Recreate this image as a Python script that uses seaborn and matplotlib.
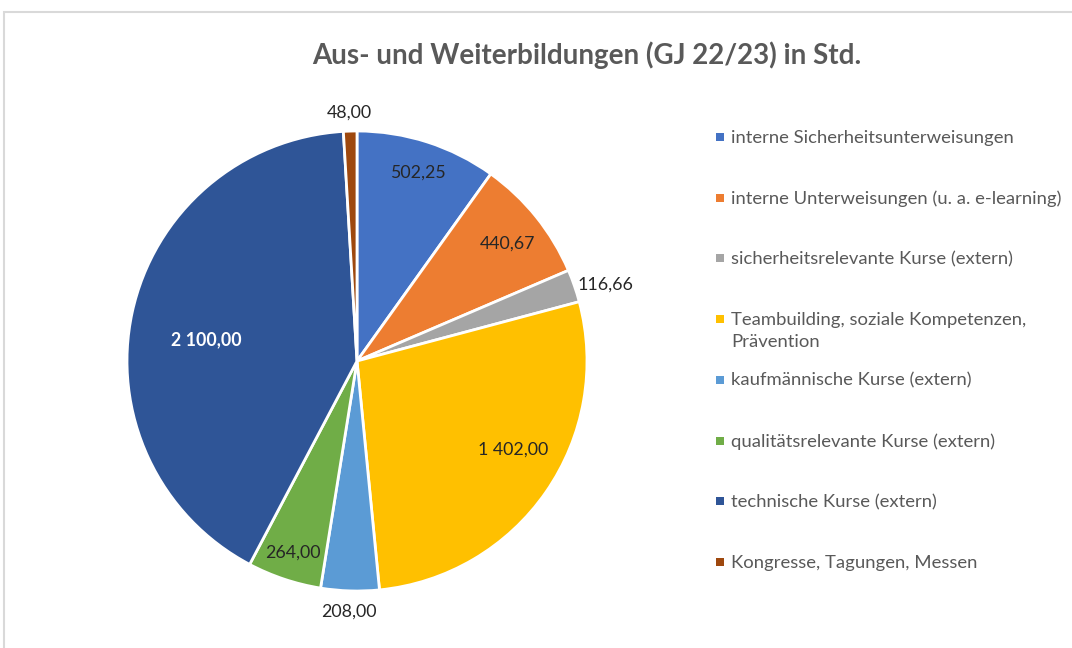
import matplotlib
matplotlib.use("Agg")
import numpy as np
import matplotlib.pyplot as plt
import seaborn as sns
from matplotlib.patches import Rectangle

# Data (hours per category, fiscal year 22/23)
categories = [
    "interne Sicherheitsunterweisungen",
    "interne Unterweisungen (u. a. e-learning)",
    "sicherheitsrelevante Kurse (extern)",
    "Teambuilding, soziale Kompetenzen,\nPrävention",
    "kaufmännische Kurse (extern)",
    "qualitätsrelevante Kurse (extern)",
    "technische Kurse (extern)",
    "Kongresse, Tagungen, Messen",
]
hours = [502.25, 440.67, 116.66, 1402.00, 208.00, 264.00, 2100.00, 48.00]
colors = ["#4472C4", "#ED7D31", "#A5A5A5", "#FFC000",
          "#5B9BD5", "#70AD47", "#2F5597", "#9E480E"]

title = "Aus- und Weiterbildungen (GJ 22/23) in Std."

sns.set_theme(style="white")
plt.rcParams["font.family"] = ["Lato", "DejaVu Sans"]

W, H = 1072, 648
fig = plt.figure(figsize=(W / 100, H / 100), dpi=100)
fig.patch.set_facecolor("white")

# chart frame (Excel chart area border)
fig.patches.append(Rectangle((4 / W, -0.5), 2, 0.5 + 1 - 12 / H,
                             transform=fig.transFigure, fill=False,
                             edgecolor="#D9D9D9", linewidth=1.5))

# pie area: center (357, 361) px, radius 230 px
cx, cy, R = 357, 361, 230
ax = fig.add_axes([(cx - R) / W, 1 - (cy + R) / H, 2 * R / W, 2 * R / H])
palette = sns.color_palette(colors)
wedges, _ = ax.pie(hours, colors=palette, startangle=90, counterclock=False,
                   wedgeprops=dict(edgecolor="white", linewidth=2))
ax.set_xlim(-1, 1)
ax.set_ylim(-1, 1)
ax.set_aspect("equal")
ax.axis("off")


def fmt_de(v):
    return f"{v:,.2f}".replace(",", " ").replace(".", ",")


# data label placement (radius as fraction of R, angle nudge in degrees)
label_r = [0.86, 0.83, 1.13, 0.78, 1.09, 0.88, 0.66, 1.08]
label_dt = [0, -1, -2, 5, 0, 0, 4, 0]
for w, v, r, dt in zip(wedges, hours, label_r, label_dt):
    th = np.deg2rad((w.theta1 + w.theta2) / 2 + dt)
    big = v == max(hours)
    ax.text(r * np.cos(th), r * np.sin(th), fmt_de(v), ha="center", va="center",
            fontsize=12.8, color="white" if big else "#262626",
            fontweight="bold" if big else "normal", clip_on=False)

fig.text(587 / W, 1 - 55 / H, title, ha="center", va="center",
         fontsize=20, fontweight="bold", color="#595959")

# legend (Excel style: fixed slots, marker aligned with first line)
lg = fig.add_axes([0, 0, 1, 1])
lg.set_xlim(0, W)
lg.set_ylim(H, 0)
lg.axis("off")
y0, step, line_px = 138, 60.7, 22
for i, (lab, c) in enumerate(zip(categories, palette)):
    y = y0 + i * step
    n = lab.count("\n") + 1
    lg.scatter([720], [y - 1], marker="s", s=36, color=c, linewidths=0)
    lg.text(731, y + (n - 1) * line_px / 2, lab, ha="left", va="center",
            fontsize=13.3, color="#595959", linespacing=1.45)

fig.savefig("out.png", dpi=100, facecolor="white")
